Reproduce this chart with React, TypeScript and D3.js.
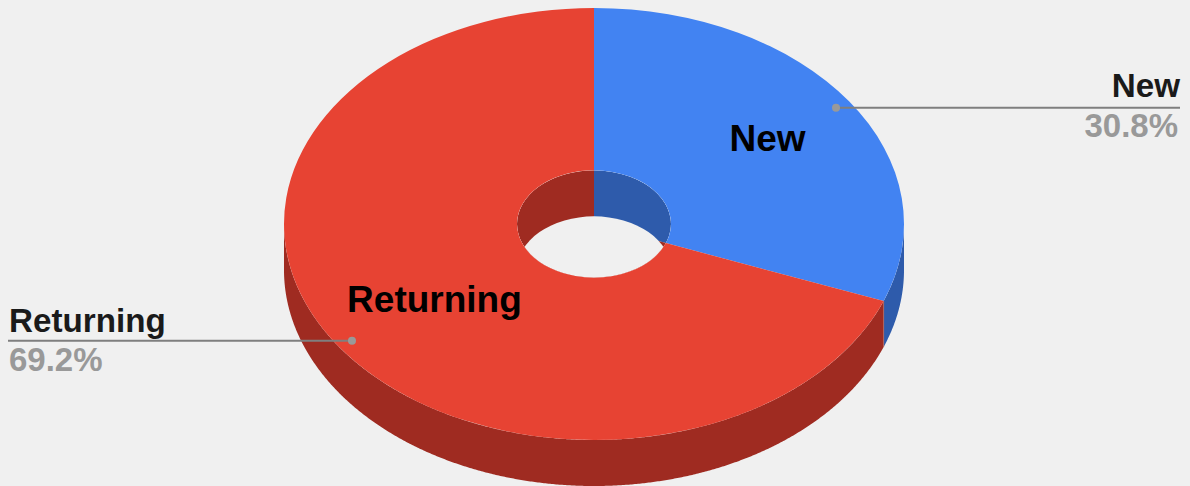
import React from "react";
import * as d3 from "d3";

const categories = ["New", "Returning"];
const shares = [30.8, 69.2];
const percentLabels = ["30.8%", "69.2%"];
const topColors = ["#4283f2", "#e74333"];
const wallColors = ["#2e5bab", "#9f2b21"];

const W = 1190, H = 486;
const BG = "#f0f0f0";
const CX = 594, CY = 224, RX = 310, RY = 216, HOLE = 77, DEPTH = 46;
const FONT = "'Liberation Sans', Arial, sans-serif";

const squash = RY / RX;
const pieGen = d3.pie<number>().sort(null).startAngle(0).endAngle(2 * Math.PI);
const arcs = pieGen(shares);
const ringArc = d3.arc<d3.PieArcDatum<number>>().innerRadius(HOLE).outerRadius(RX);
const holeArc = d3.arc<d3.PieArcDatum<number>>().innerRadius(0).outerRadius(HOLE);

const px = (a: number, r = 1) => CX + RX * r * Math.sin(a);
const py = (a: number, r = 1) => CY - RY * r * Math.cos(a);

const wallArea = d3.area<number>().x((a) => px(a)).y0((a) => py(a)).y1((a) => py(a) + DEPTH);
const wallPath = (start: number, end: number) => {
  const s = Math.max(start, Math.PI / 2);
  const e = Math.min(end, (3 * Math.PI) / 2);
  if (e <= s) return "";
  const n = Math.ceil((e - s) / 0.005);
  return wallArea(d3.range(n + 1).map((i) => s + ((e - s) * i) / n)) || "";
};

const labelR = [0.68, 0.625];
const labelDy = [-3, -2];
const nameDy = [-11, -9];
const pctDy = [29, 30.5];
const leaderNudge = [0, 0.7];
const leader = [
  { x2: 1180, anchor: "end", tx: 1180 },
  { x2: 8, anchor: "start", tx: 9 },
];

export default function App() {
  const seamAngle = arcs[0].endAngle;
  return (
    <svg width={W} height={H} viewBox={`0 0 ${W} ${H}`} style={{ position: "absolute", left: 0, top: 0, background: BG, fontFamily: FONT }}>
      <defs>
        <clipPath id="holeClip">
          <ellipse cx={CX} cy={CY} rx={HOLE} ry={HOLE * squash} />
        </clipPath>
      </defs>
      {arcs.map((d, i) => (
        <path key={i} d={wallPath(d.startAngle, d.endAngle)} fill={wallColors[i]} />
      ))}
      <line x1={px(seamAngle)} x2={px(seamAngle)} y1={py(seamAngle)} y2={py(seamAngle) + DEPTH} stroke="#b5695f" strokeWidth={0.7} />
      <g clipPath="url(#holeClip)">
        <g transform={`translate(${CX},${CY}) scale(1,${squash})`}>
          {arcs.map((d, i) => (
            <path key={i} d={holeArc(d) || ""} fill={wallColors[i]} />
          ))}
        </g>
        <ellipse cx={CX} cy={CY + DEPTH} rx={HOLE} ry={HOLE * squash} fill={BG} />
      </g>
      <g transform={`translate(${CX},${CY}) scale(1,${squash})`}>
        {arcs.map((d, i) => (
          <path key={i} d={ringArc(d) || ""} fill={topColors[i]} />
        ))}
      </g>
      {arcs.map((d, i) => {
        const mid = (d.startAngle + d.endAngle) / 2;
        const dotX = px(mid, 0.948);
        const dotY = py(mid, 0.948) + leaderNudge[i];
        const l = leader[i];
        return (
          <g key={i}>
            <line x1={dotX} x2={l.x2} y1={dotY} y2={dotY} stroke="#7f7f7f" strokeWidth={2} />
            <circle cx={dotX} cy={dotY} r={4} fill="#999999" />
            <text x={l.tx} y={dotY + nameDy[i]} textAnchor={l.anchor as "start" | "end"} fontSize={33.2} fontWeight={700} fill="#1a1a1a">
              {categories[i]}
            </text>
            <text x={l.tx - (i === 0 ? 2 : 0)} y={dotY + pctDy[i]} textAnchor={l.anchor as "start" | "end"} fontSize={33} fontWeight={700} fill="#999999">
              {percentLabels[i]}
            </text>
            <text x={px(mid, labelR[i])} y={py(mid, labelR[i]) + labelDy[i] + 13} textAnchor="middle" fontSize={37} fontWeight={700} fill="#000000">
              {categories[i]}
            </text>
          </g>
        );
      })}
    </svg>
  );
}
